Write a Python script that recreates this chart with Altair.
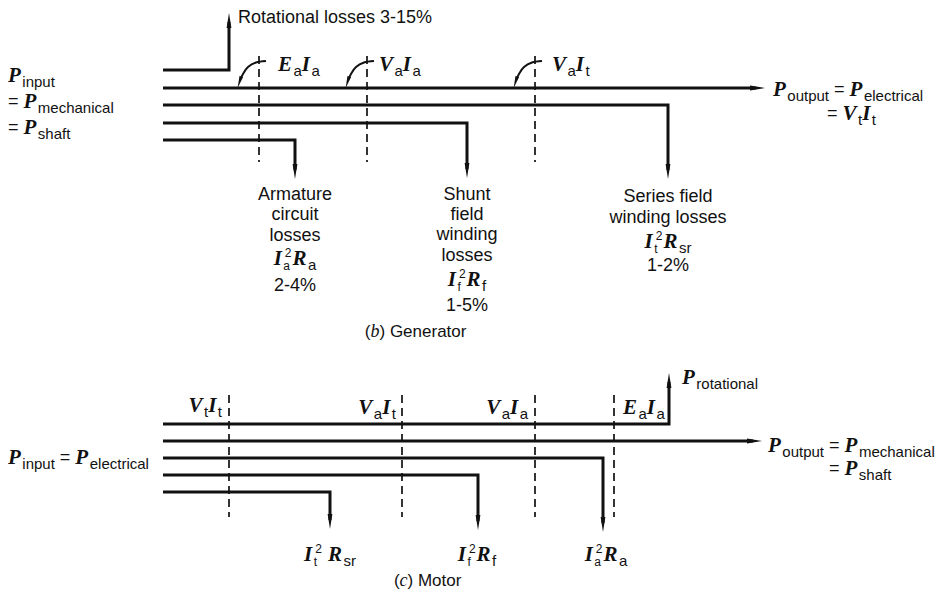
import altair as alt
import pandas as pd

# ---------------- diagram data (pixel-like units) ----------------
# flow paths: corner points; the last point is the arrow tip
gen_paths = {
    "g_rot":    [(163, 70), (229, 70), (229, 13)],
    "g_out":    [(163, 88), (765, 88)],
    "g_series": [(163, 105), (668, 105), (668, 179)],
    "g_shunt":  [(163, 123), (467, 123), (467, 178)],
    "g_arm":    [(163, 140), (295, 140), (295, 179)],
}
mot_paths = {
    "m_rot":    [(163, 424), (669, 424), (669, 373)],
    "m_out":    [(163, 441), (762, 441)],
    "m_arm":    [(163, 458), (603, 458), (603, 532)],
    "m_shunt":  [(163, 475), (478, 475), (478, 530)],
    "m_series": [(163, 492), (330, 492), (330, 529)],
}
gen_dash_x = [259, 367, 535]
gen_dash_y = (56, 162)
mot_dash_x = [229, 402, 535, 614]
mot_dash_y = (395, 517)
curve_dx = [7, -3, -11, -16, -19]
curve_y = [61, 62.5, 67, 74, 80]
curve_tip = (-21, 88)

# text labels: (x, y, anchor, pieces)
labels = [
    (238, 18, "left", [("Rotational losses 3-15%", "t")]),
    (8, 76, "left", [("P", "m"), ("input", "s")]),
    (8, 102, "left", [("= ", "t"), ("P", "m"), ("mechanical", "s")]),
    (8, 128, "left", [("= ", "t"), ("P", "m"), ("shaft", "s")]),
    (278, 65, "left", [("E", "m"), ("a", "s"), ("I", "m"), ("a", "s")]),
    (379, 65, "left", [("V", "m"), ("a", "s"), ("I", "m"), ("a", "s")]),
    (552, 65, "left", [("V", "m"), ("a", "s"), ("I", "m"), ("t", "s")]),
    (773, 90, "left", [("P", "m"), ("output", "s"), (" = ", "t"), ("P", "m"), ("electrical", "s")]),
    (827, 114, "left", [("= ", "t"), ("V", "m"), ("t", "s"), ("I", "m"), ("t", "s")]),
    (295, 195, "center", [("Armature", "t")]),
    (295, 215, "center", [("circuit", "t")]),
    (295, 236, "center", [("losses", "t")]),
    (295, 259, "center", [("I", "m"), (("a", "2"), "sp"), ("R", "m"), ("a", "s")]),
    (295, 286, "center", [("2-4%", "t")]),
    (467, 195, "center", [("Shunt", "t")]),
    (467, 215, "center", [("field", "t")]),
    (467, 235, "center", [("winding", "t")]),
    (467, 256, "center", [("losses", "t")]),
    (467, 280, "center", [("I", "m"), (("f", "2"), "sp"), ("R", "m"), ("f", "s")]),
    (467, 306, "center", [("1-5%", "t")]),
    (668, 197, "center", [("Series field", "t")]),
    (668, 218, "center", [("winding losses", "t")]),
    (668, 242, "center", [("I", "m"), (("t", "2"), "sp"), ("R", "m"), ("sr", "s")]),
    (668, 266, "center", [("1-2%", "t")]),
    (418, 332, "center", [("(", "c"), ("b", "ci"), (")  Generator", "c")]),
    (222, 406, "right", [("V", "m"), ("t", "s"), ("I", "m"), ("t", "s")]),
    (396, 408, "right", [("V", "m"), ("a", "s"), ("I", "m"), ("t", "s")]),
    (528, 408, "right", [("V", "m"), ("a", "s"), ("I", "m"), ("a", "s")]),
    (623, 408, "left", [("E", "m"), ("a", "s"), ("I", "m"), ("a", "s")]),
    (682, 378, "left", [("P", "m"), ("rotational", "s")]),
    (8, 458, "left", [("P", "m"), ("input", "s"), (" = ", "t"), ("P", "m"), ("electrical", "s")]),
    (768, 446, "left", [("P", "m"), ("output", "s"), (" = ", "t"), ("P", "m"), ("mechanical", "s")]),
    (829, 469, "left", [("= ", "t"), ("P", "m"), ("shaft", "s")]),
    (330, 555, "center", [("I", "m"), (("t", "2"), "sp"), (" ", "t"), ("R", "m"), ("sr", "s")]),
    (477, 555, "center", [("I", "m"), (("f", "2"), "sp"), ("R", "m"), ("f", "s")]),
    (606, 555, "center", [("I", "m"), (("a", "2"), "sp"), ("R", "m"), ("a", "s")]),
    (430, 581, "center", [("(", "c"), ("c", "ci"), (")  Motor", "c")]),
]

# ---------------- text metrics ----------------
SANS = dict(zip("abcdefghijklmnopqrstuvwxyz",
                [556, 556, 500, 556, 556, 278, 556, 556, 222, 222, 500, 222, 833,
                 556, 556, 556, 556, 333, 500, 278, 556, 500, 722, 500, 500, 500]))
SANS.update({c: 556 for c in "0123456789"})
SANS.update({" ": 278, "=": 584, "-": 333, "%": 889, "(": 333, ")": 333,
             "A": 667, "G": 778, "M": 833, "R": 722, "S": 667})
SERIF_BI = {"P": 611, "E": 667, "V": 667, "I": 389, "R": 667, " ": 250}
SERIF_I = {"b": 500, "c": 444, " ": 250}

KIND = {
    "t":  dict(tab=SANS, font="Liberation Sans", size=18, style="normal", weight="normal", dy=0),
    "m":  dict(tab=SERIF_BI, font="Liberation Serif", size=21, style="italic", weight="bold", dy=0),
    "s":  dict(tab=SANS, font="Liberation Sans", size=15, style="normal", weight="normal", dy=6),
    "s2": dict(tab=SANS, font="Liberation Sans", size=12, style="normal", weight="normal", dy=7),
    "p2": dict(tab=SANS, font="Liberation Sans", size=12, style="normal", weight="normal", dy=-6),
    "c":  dict(tab=SANS, font="Liberation Sans", size=17, style="normal", weight="normal", dy=0),
    "ci": dict(tab=SERIF_I, font="Liberation Serif", size=18, style="italic", weight="normal", dy=0),
}


def wid(txt, k):
    spec = KIND[k]
    return sum(spec["tab"].get(ch, 556) for ch in txt) * spec["size"] / 1000.0


def emit(rows, x, y, txt, k):
    lead = len(txt) - len(txt.lstrip(" "))
    t = txt.strip(" ")
    if t:
        rows.append(dict(x=x + wid(" " * lead, k), y=y + KIND[k]["dy"], txt=t, kind=k))


text_rows = []
for (lx, ly, anchor, pieces) in labels:
    widths = []
    for txt, k in pieces:
        if k == "sp":
            widths.append(max(wid(txt[0], "s2"), wid(txt[1], "p2")) + 2.5)
        else:
            widths.append(wid(txt, k) + (1.5 if k == "m" else 0))
    total = sum(widths)
    cur = lx - total / 2 if anchor == "center" else (lx - total if anchor == "right" else lx)
    for (txt, k), w in zip(pieces, widths):
        if k == "sp":
            emit(text_rows, cur, ly, txt[0], "s2")
            emit(text_rows, cur + 1.5, ly, txt[1], "p2")
        else:
            emit(text_rows, cur, ly, txt, k)
        cur += w
text_df = pd.DataFrame(text_rows)

# ---------------- geometry tables ----------------
ARROW_L = 15
path_rows, head_rows = [], []
for paths in (gen_paths, mot_paths):
    for pid, pts in paths.items():
        (xa, ya), (xb, yb) = pts[-2], pts[-1]
        ddx = (xb > xa) - (xb < xa)
        ddy = (yb > ya) - (yb < ya)
        new_pts = pts[:-1] + [(xb - ddx * 9, yb - ddy * 9)]
        for i, (px, py) in enumerate(new_pts):
            path_rows.append(dict(pid=pid, ord=i, x=px, y=py))
        ang = {(1, 0): 90, (0, 1): 180, (0, -1): 0, (-1, 0): 270}[(ddx, ddy)]
        head_rows.append(dict(x=xb - ddx * ARROW_L / 2, y=yb - ddy * ARROW_L / 2,
                              angle=ang, size=ARROW_L ** 2))

curve_rows = []
for dx in gen_dash_x:
    for i, (cx, cy) in enumerate(zip(curve_dx, curve_y)):
        curve_rows.append(dict(pid="c%d" % dx, ord=i, x=dx + cx, y=cy))
    L = 12
    vx, vy = curve_tip[0] - curve_dx[-1], curve_tip[1] - curve_y[-1]
    n = (vx * vx + vy * vy) ** 0.5
    head_rows.append(dict(x=dx + curve_tip[0] - vx / n * L / 2, y=curve_tip[1] - vy / n * L / 2,
                          angle=198, size=L ** 2))

dash_rows = [dict(x=x, y=gen_dash_y[0], y2=gen_dash_y[1]) for x in gen_dash_x]
dash_rows += [dict(x=x, y=mot_dash_y[0], y2=mot_dash_y[1]) for x in mot_dash_x]

path_df = pd.DataFrame(path_rows)
head_df = pd.DataFrame(head_rows)
curve_df = pd.DataFrame(curve_rows)
dash_df = pd.DataFrame(dash_rows)

# ---------------- chart ----------------
X = alt.X("x:Q", scale=alt.Scale(domain=[8, 942], nice=False, zero=False), axis=None)
Y = alt.Y("y:Q", scale=alt.Scale(domain=[8, 590], nice=False, zero=False, reverse=True), axis=None)
INK = "#111111"

flows = alt.Chart(path_df).mark_line(color=INK, strokeWidth=3, strokeCap="butt",
                                     strokeJoin="miter").encode(
    x=X, y=Y, detail="pid:N", order="ord:Q")

curves = alt.Chart(curve_df).mark_line(color=INK, strokeWidth=2, interpolate="cardinal").encode(
    x=X, y=Y, detail="pid:N", order="ord:Q")

dashes = alt.Chart(dash_df).mark_rule(color=INK, strokeWidth=1.7, strokeDash=[8, 5]).encode(
    x=X, y=Y, y2="y2:Q")

heads = alt.Chart(head_df).mark_point(shape="M0,-1L0.32,1L-0.32,1Z", filled=True,
                                      color=INK, opacity=1, strokeWidth=0).encode(
    x=X, y=Y, angle=alt.Angle("angle:Q", scale=None), size=alt.Size("size:Q", scale=None))

text_layers = []
for k, spec in KIND.items():
    text_layers.append(
        alt.Chart(text_df).transform_filter(alt.datum.kind == k).mark_text(
            align="left", baseline="middle", font=spec["font"], fontSize=spec["size"],
            fontStyle=spec["style"], fontWeight=spec["weight"], color=INK
        ).encode(x=X, y=Y, text="txt:N")
    )

chart = alt.layer(dashes, flows, curves, heads, *text_layers).properties(
    width=934, height=582, padding=0, background="white",
    autosize=alt.AutoSizeParams(type="none"),
).configure_view(stroke=None)

chart.save("out.html", embed_options={"renderer": "svg", "actions": False})
